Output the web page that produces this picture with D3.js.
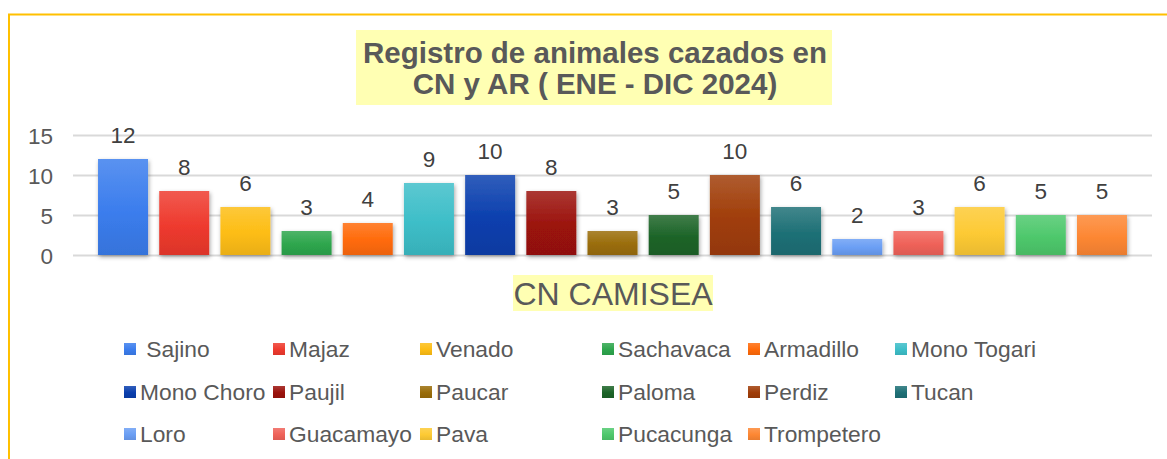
<!DOCTYPE html>
<html>
<head>
<meta charset="utf-8">
<script src="https://cdn.jsdelivr.net/npm/d3@7"></script>
<style>
  html, body { margin: 0; padding: 0; background: #ffffff; }
  svg { display: block; font-family: "Liberation Sans", Arial, sans-serif; }
</style>
</head>
<body>
<svg id="chart" width="1167" height="459"></svg>
<script>
// ---- data ----
const categories = [" Sajino", "Majaz", "Venado", "Sachavaca", "Armadillo", "Mono Togari",
  "Mono Choro", "Paujil", "Paucar", "Paloma", "Perdiz", "Tucan",
  "Loro", "Guacamayo", "Pava", "Pucacunga", "Trompetero"];
const values = [12, 8, 6, 3, 4, 9, 10, 8, 3, 5, 10, 6, 2, 3, 6, 5, 5];
const colors = ["#3b7ded", "#ee3a2e", "#fdbd14", "#2ea64d", "#ff6a0a", "#3dbec8",
  "#0a3fae", "#9b120c", "#9a6d0a", "#1c6428", "#a03d08", "#1e7076",
  "#6a9ef4", "#ef6259", "#fdca34", "#4ec86c", "#fd8733"];
const yTicks = [0, 5, 10, 15];
const titleLines = ["Registro de animales cazados en", "CN y AR ( ENE - DIC 2024)"];
const axisTitle = "CN CAMISEA";

// ---- layout ----
const W = 1167, H = 459;
const plot = { left: 73, right: 1152, top: 135, bottom: 255 };
const legendCols = [124, 273, 420, 602, 748, 895];
const legendRows = [349, 392, 434];

const svg = d3.select("#chart");
svg.append("rect").attr("width", W).attr("height", H).attr("fill", "#fff");

const defs = svg.append("defs");
const shadow = defs.append("filter").attr("id", "shadow")
  .attr("x", "-20%").attr("y", "-20%").attr("width", "140%").attr("height", "140%");
shadow.append("feDropShadow").attr("dx", 1).attr("dy", 2).attr("stdDeviation", 2.2)
  .attr("flood-color", "#000").attr("flood-opacity", 0.35);

colors.forEach((c, i) => {
  const g = defs.append("linearGradient").attr("id", "grad" + i)
    .attr("x1", 0).attr("y1", 0).attr("x2", 0).attr("y2", 1);
  g.append("stop").attr("offset", "0%").attr("stop-color", d3.interpolateRgb(c, "#ffffff")(0.16));
  g.append("stop").attr("offset", "55%").attr("stop-color", c);
  g.append("stop").attr("offset", "100%").attr("stop-color", d3.interpolateRgb(c, "#000000")(0.08));
});

// border
svg.append("rect").attr("x", 9).attr("y", 14.5).attr("width", W + 20).attr("height", H + 20)
  .attr("fill", "none").attr("stroke", "#ffc000").attr("stroke-width", 2);

// scales
const x = d3.scaleBand().domain(d3.range(categories.length))
  .range([plot.left, plot.right]).paddingInner(0.183).paddingOuter(0.409);
const y = d3.scaleLinear().domain([0, 15]).range([plot.bottom, plot.top]);

// y axis + gridlines
const yAxis = d3.axisLeft(y).tickValues(yTicks).tickSize(-(plot.right - plot.left)).tickPadding(20);
const ga = svg.append("g").attr("transform", `translate(${plot.left},0)`).call(yAxis);
ga.select(".domain").remove();
ga.selectAll(".tick line").attr("stroke", "#d9d9d9").attr("stroke-width", 2);
ga.selectAll(".tick text").attr("fill", "#595959").attr("font-size", 22.5)
  .attr("font-family", "Liberation Sans, Arial, sans-serif").attr("dy", "0.36em");

// bars
svg.append("g").selectAll("rect").data(values).join("rect")
  .attr("x", (d, i) => x(i)).attr("width", x.bandwidth())
  .attr("y", d => y(d)).attr("height", d => y(0) - y(d))
  .attr("fill", (d, i) => `url(#grad${i})`).attr("filter", "url(#shadow)");

// data labels
svg.append("g").selectAll("text").data(values).join("text")
  .attr("x", (d, i) => x(i) + x.bandwidth() / 2).attr("y", d => y(d) - 16.5)
  .attr("text-anchor", "middle").attr("font-size", 22.5).attr("fill", "#404040")
  .text(d => d);

// title
const tg = svg.append("g");
tg.append("rect").attr("x", 356).attr("y", 30).attr("width", 476).attr("height", 75).attr("fill", "#ffffb3");
tg.selectAll("text").data(titleLines).join("text")
  .attr("x", 595).attr("y", (d, i) => 62.5 + i * 31)
  .attr("text-anchor", "middle").attr("font-size", 29.5).attr("font-weight", "bold")
  .attr("fill", "#595959").text(d => d);

// axis title
svg.append("rect").attr("x", 513).attr("y", 275).attr("width", 200).attr("height", 36).attr("fill", "#ffffb3");
svg.append("text").attr("x", 613).attr("y", 305).attr("text-anchor", "middle")
  .attr("font-size", 32).attr("fill", "#595959").text(axisTitle);

// legend
const lg = svg.append("g").selectAll("g").data(categories).join("g")
  .attr("transform", (d, i) => `translate(${legendCols[i % 6]},${legendRows[Math.floor(i / 6)]})`);
lg.append("rect").attr("x", 0).attr("y", -6).attr("width", 12).attr("height", 12)
  .attr("fill", (d, i) => `url(#grad${i})`);
lg.append("text").attr("x", 16).attr("y", 8).attr("font-size", 22.8).attr("fill", "#595959")
  .style("white-space", "pre").text(d => d);
</script>
</body>
</html>
